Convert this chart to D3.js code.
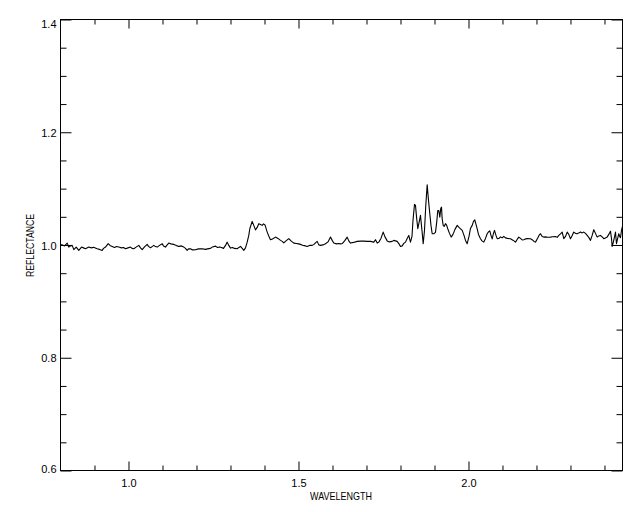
<!DOCTYPE html>
<html>
<head>
<meta charset="utf-8">
<script src="https://cdn.jsdelivr.net/npm/d3@7"></script>
<style>
  html, body { margin: 0; padding: 0; background: #fff; }
  svg { display: block; }
  text { font-family: "Liberation Sans", Arial, sans-serif; font-size: 11px; fill: #000; }
</style>
</head>
<body>
<svg id="chart" width="640" height="512"></svg>
<script>
// ---- data ----
const wavelength = [
0.8000,0.8059,0.8118,0.8197,0.8244,0.8294,0.8344,0.8391,0.8462,0.8538,
0.8618,0.8676,0.8735,0.8832,0.8912,0.8971,0.9079,0.9147,0.9226,0.9265,
0.9324,0.9403,0.9456,0.9521,0.9588,0.9647,0.9715,0.9794,0.9853,0.9912,
0.9985,1.0059,1.0103,1.0156,1.0235,1.0303,1.0353,1.0403,1.0471,1.0550,
1.0588,1.0647,1.0706,1.0744,1.0794,1.0844,1.0912,1.0991,1.1029,1.1088,
1.1138,1.1185,1.1250,1.1332,1.1412,1.1479,1.1559,1.1626,1.1676,1.1726,
1.1765,1.1824,1.1882,1.1971,1.2059,1.2168,1.2265,1.2324,1.2412,1.2471,
1.2559,1.2618,1.2676,1.2735,1.2794,1.2853,1.2903,1.2950,1.3000,1.3059,
1.3118,1.3197,1.3250,1.3294,1.3344,1.3391,1.3441,1.3491,1.3538,1.3568,
1.3638,1.3685,1.3735,1.3785,1.3832,1.3882,1.3932,1.3971,1.4015,1.4079,
1.4132,1.4176,1.4235,1.4324,1.4397,1.4471,1.4521,1.4568,1.4632,1.4715,
1.4779,1.4862,1.4941,1.5000,1.5059,1.5118,1.5176,1.5256,1.5324,1.5403,
1.5456,1.5500,1.5550,1.5597,1.5647,1.5721,1.5794,1.5868,1.5941,1.5991,
1.6038,1.6118,1.6176,1.6235,1.6294,1.6368,1.6432,1.6479,1.6529,1.6618,
1.6726,1.6824,1.6921,1.7021,1.7118,1.7215,1.7265,1.7315,1.7362,1.7426,
1.7491,1.7544,1.7609,1.7676,1.7756,1.7803,1.7903,1.7956,1.8000,1.8050,
1.8097,1.8147,1.8197,1.8244,1.8294,1.8338,1.8368,1.8412,1.8441,1.8476,
1.8509,1.8547,1.8588,1.8632,1.8668,1.8706,1.8744,1.8785,1.8824,1.8862,
1.8897,1.8932,1.8979,1.9029,1.9065,1.9097,1.9126,1.9156,1.9185,1.9206,
1.9226,1.9256,1.9285,1.9324,1.9359,1.9391,1.9441,1.9491,1.9544,1.9603,
1.9668,1.9735,1.9815,1.9868,1.9912,1.9962,2.0015,2.0059,2.0109,2.0147,
2.0185,2.0221,2.0256,2.0294,2.0353,2.0397,2.0450,2.0500,2.0550,2.0588,
2.0626,2.0662,2.0697,2.0735,2.0765,2.0809,2.0844,2.0897,2.0941,2.0991,
2.1038,2.1088,2.1147,2.1235,2.1294,2.1338,2.1382,2.1432,2.1479,2.1529,
2.1579,2.1626,2.1676,2.1735,2.1824,2.1882,2.1926,2.1971,2.2029,2.2074,
2.2118,2.2168,2.2215,2.2265,2.2324,2.2412,2.2471,2.2559,2.2609,2.2656,
2.2706,2.2756,2.2803,2.2853,2.2903,2.2950,2.3000,2.3050,2.3097,2.3147,
2.3197,2.3244,2.3294,2.3344,2.3391,2.3441,2.3491,2.3538,2.3588,2.3638,
2.3685,2.3735,2.3785,2.3832,2.3882,2.3932,2.3979,2.4029,2.4079,2.4126,
2.4176,2.4206,2.4226,2.4259,2.4294,2.4324,2.4353,2.4388,2.4421,2.4447,
2.4471,2.4500,2.4529
];
const reflectance = [
1.0005,1.0002,0.9984,1.0034,0.9963,0.9984,0.9993,0.9917,0.9963,0.9904,
0.9963,0.9949,0.9934,0.9963,0.9949,0.9961,0.9934,0.9922,0.9904,0.9940,
0.9963,1.0023,0.9993,0.9975,0.9957,0.9972,0.9963,0.9949,0.9957,0.9934,
0.9949,0.9963,0.9940,0.9934,0.9966,0.9993,0.9949,0.9917,0.9966,1.0011,
0.9975,0.9952,0.9975,0.9993,0.9972,0.9963,0.9993,1.0023,0.9984,0.9963,
1.0002,1.0034,1.0020,1.0011,0.9989,0.9975,0.9984,0.9963,0.9940,0.9904,
0.9931,0.9934,0.9913,0.9917,0.9931,0.9934,0.9922,0.9931,0.9940,0.9966,
0.9980,0.9957,0.9966,0.9954,0.9940,0.9993,1.0051,0.9993,0.9945,0.9957,
0.9940,0.9934,0.9957,0.9975,0.9940,0.9904,0.9949,1.0051,1.0170,1.0289,
1.0418,1.0348,1.0268,1.0312,1.0378,1.0365,1.0348,1.0374,1.0356,1.0229,
1.0152,1.0094,1.0108,1.0140,1.0117,1.0082,1.0064,1.0037,1.0073,1.0112,
1.0073,1.0034,1.0028,1.0020,1.0011,0.9996,0.9989,0.9975,0.9993,0.9993,
1.0011,1.0037,1.0064,1.0002,0.9993,1.0002,1.0023,1.0055,1.0140,1.0082,
1.0034,1.0020,1.0028,1.0020,1.0028,1.0082,1.0140,1.0073,1.0034,1.0046,
1.0064,1.0069,1.0069,1.0064,1.0064,1.0051,1.0094,1.0034,1.0051,1.0117,
1.0229,1.0144,1.0073,1.0055,1.0064,1.0082,1.0064,1.0020,0.9975,0.9984,
1.0028,1.0051,1.0117,1.0170,1.0051,1.0152,1.0436,1.0720,1.0702,1.0472,
1.0289,1.0401,1.0525,1.0259,1.0023,1.0259,1.0702,1.1066,1.0791,1.0555,
1.0348,1.0200,1.0200,1.0223,1.0401,1.0613,1.0613,1.0495,1.0649,1.0672,
1.0466,1.0348,1.0330,1.0378,1.0348,1.0289,1.0206,1.0140,1.0188,1.0277,
1.0348,1.0303,1.0259,1.0170,1.0082,1.0023,1.0152,1.0294,1.0348,1.0418,
1.0445,1.0365,1.0285,1.0188,1.0112,1.0073,1.0051,1.0117,1.0200,1.0232,
1.0250,1.0170,1.0108,1.0206,1.0259,1.0170,1.0112,1.0117,1.0144,1.0126,
1.0152,1.0126,1.0117,1.0112,1.0090,1.0073,1.0051,1.0099,1.0140,1.0117,
1.0090,1.0094,1.0108,1.0113,1.0112,1.0090,1.0064,1.0051,1.0117,1.0170,
1.0200,1.0152,1.0140,1.0144,1.0138,1.0140,1.0145,1.0152,1.0135,1.0170,
1.0197,1.0229,1.0112,1.0152,1.0229,1.0188,1.0112,1.0170,1.0229,1.0206,
1.0200,1.0215,1.0229,1.0215,1.0229,1.0206,1.0170,1.0135,1.0082,1.0170,
1.0271,1.0206,1.0140,1.0161,1.0170,1.0144,1.0112,1.0126,1.0140,1.0188,
1.0246,1.0117,0.9975,1.0046,1.0140,1.0229,1.0023,1.0117,1.0200,1.0152,
1.0129,1.0259,1.0330
];
const xMajorTicks = [1.0, 1.5, 2.0];
const xMinorTicks = [0.9, 1.1, 1.2, 1.3, 1.4, 1.6, 1.7, 1.8, 1.9, 2.1, 2.2, 2.3, 2.4];
const yMajorTicks = [0.6, 0.8, 1.0, 1.2, 1.4];
const yMinorTicks = [0.65, 0.7, 0.75, 0.85, 0.9, 0.95, 1.05, 1.1, 1.15, 1.25, 1.3, 1.35];
const xTitle = "WAVELENGTH";
const yTitle = "REFLECTANCE";
const xDomain = [0.8, 2.453];
const yDomain = [0.6, 1.4];

// ---- layout ----
const L = 60.5, R = 622.5, T = 19.5, B = 470.5;
const svg = d3.select("#chart");
svg.append("rect").attr("width", 640).attr("height", 512).attr("fill", "#fff");

const x = d3.scaleLinear().domain(xDomain).range([L, R]);
const y = d3.scaleLinear().domain(yDomain).range([B, T]);

const fmt = d3.format(".1f");

function styleAxis(g) {
  g.select(".domain").remove();
  g.selectAll("line").attr("stroke", "#000").attr("stroke-width", 1);
  g.attr("font-family", null).attr("font-size", null);
  g.selectAll("text").attr("fill", "#000");
}

// bottom
const bottomG = svg.append("g").attr("transform", `translate(0,${B})`)
  .call(d3.axisBottom(x).tickValues(xMajorTicks).tickSize(-9).tickPadding(0).tickFormat(fmt))
  .call(styleAxis);
bottomG.selectAll(".tick text").attr("dy", null).attr("y", 16.3);
svg.append("g").attr("transform", `translate(0,${B})`)
  .call(d3.axisBottom(x).tickValues(xMinorTicks).tickSize(-5).tickFormat(""))
  .call(styleAxis);
// top
svg.append("g").attr("transform", `translate(0,${T})`)
  .call(d3.axisTop(x).tickValues(xMajorTicks).tickSize(-9).tickFormat(""))
  .call(styleAxis);
svg.append("g").attr("transform", `translate(0,${T})`)
  .call(d3.axisTop(x).tickValues(xMinorTicks).tickSize(-5).tickFormat(""))
  .call(styleAxis);
// left
const leftG = svg.append("g").attr("transform", `translate(${L},0)`)
  .call(d3.axisLeft(y).tickValues(yMajorTicks).tickSize(-11).tickPadding(4).tickFormat(fmt))
  .call(styleAxis);
leftG.selectAll(".tick text").attr("dy", null)
  .attr("y", d => {
    const py = y(d) + 4;
    return Math.min(Math.max(py, T + 7.5), B + 1.5) - y(d);
  });
svg.append("g").attr("transform", `translate(${L},0)`)
  .call(d3.axisLeft(y).tickValues(yMinorTicks).tickSize(-6).tickFormat(""))
  .call(styleAxis);
// right
svg.append("g").attr("transform", `translate(${R},0)`)
  .call(d3.axisRight(y).tickValues(yMajorTicks).tickSize(-11).tickFormat(""))
  .call(styleAxis);
svg.append("g").attr("transform", `translate(${R},0)`)
  .call(d3.axisRight(y).tickValues(yMinorTicks).tickSize(-6).tickFormat(""))
  .call(styleAxis);

// frame
svg.append("rect").attr("x", L).attr("y", T).attr("width", R - L).attr("height", B - T)
  .attr("fill", "none").attr("stroke", "#000").attr("stroke-width", 1);

// data line
const pts = wavelength.map((w, i) => [w, reflectance[i]]);
svg.append("path").datum(pts)
  .attr("fill", "none").attr("stroke", "#000").attr("stroke-width", 1.1)
  .attr("stroke-linejoin", "round")
  .attr("d", d3.line().x(d => x(d[0])).y(d => y(d[1])));

// titles
svg.append("text").attr("x", 341).attr("y", 500).attr("text-anchor", "middle")
  .attr("textLength", 62).attr("lengthAdjust", "spacingAndGlyphs").text(xTitle);
svg.append("text").attr("transform", `translate(34,245.5) rotate(-90)`).attr("text-anchor", "middle")
  .attr("textLength", 63).attr("lengthAdjust", "spacingAndGlyphs").text(yTitle);
</script>
</body>
</html>
